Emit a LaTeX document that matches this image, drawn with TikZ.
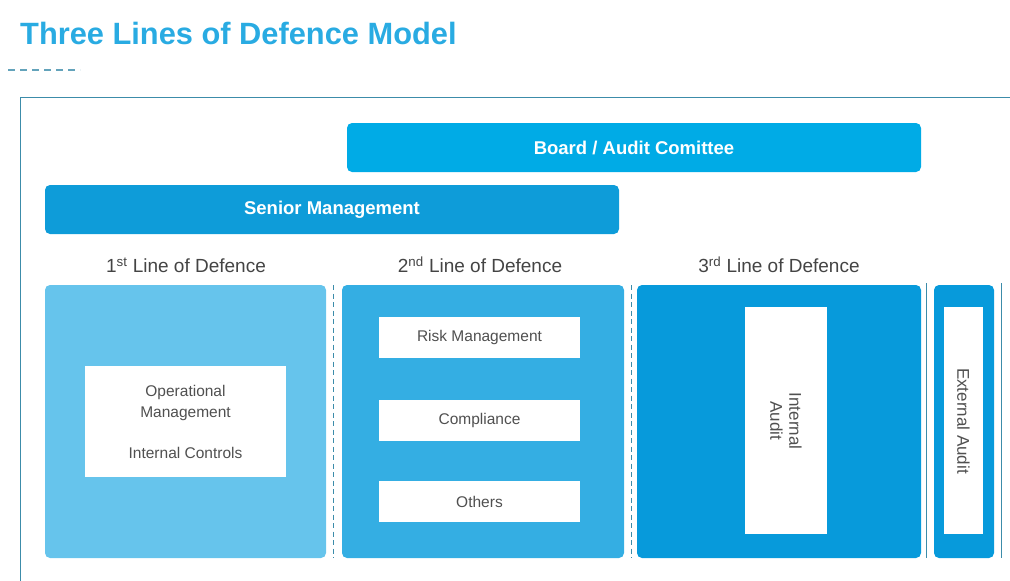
\documentclass[tikz,border=0pt]{standalone}
\usepackage{fontspec}
\setmainfont{Liberation Sans}
\usetikzlibrary{positioning}

\definecolor{titleblue}{RGB}{41,171,226}
\definecolor{boardblue}{RGB}{0,171,230}
\definecolor{seniorblue}{RGB}{14,156,217}
\definecolor{firstblue}{RGB}{102,196,236}
\definecolor{secondblue}{RGB}{52,174,227}
\definecolor{thirdblue}{RGB}{7,154,219}
\definecolor{framegrey}{RGB}{60,140,170}
\definecolor{textgrey}{RGB}{80,80,80}

\begin{document}
\begin{tikzpicture}[
          x=1pt, y=-1pt,
          bar/.style={rounded corners=5pt, text=white,
            font=\fontsize{18.5}{20}\selectfont\bfseries},
          column/.style={rounded corners=5pt},
          heading/.style={text=textgrey!85!black, font=\fontsize{19}{22}\selectfont},
          entry/.style={fill=white, text=textgrey, align=center,
            font=\fontsize{15.5}{21}\selectfont},
          sep/.style={draw=framegrey, line width=1pt, dash pattern=on 5pt off 3.5pt},
          rule/.style={draw=framegrey, line width=0.8pt}
        ]
        \useasboundingbox (0,0) rectangle (1010,581);

        % title
        \node[anchor=base west, inner sep=0pt, text=titleblue,
          font=\fontsize{30.8}{34}\selectfont\bfseries] (title) at (20,44)
          {Three Lines of Defence Model};
        \draw[draw=framegrey!80, line width=1.2pt, dash pattern=on 7pt off 5pt] (8,70) -- (80,70);

        % frame
        \draw[rule] (20,581) -- (20,97) -- (1010,97);

        % board and senior management
        \fill[boardblue, rounded corners=5pt] (347,123) rectangle (921,172);
        \node[bar] (board) at (634,148) {Board / Audit Comittee};
        \fill[seniorblue, rounded corners=5pt] (45,185) rectangle (619,234);
        \node[bar] (senior) at (332,210) {Senior Management};

        % the three lines
        \node[heading] (first) at (186,265) {1\textsuperscript{st} Line of Defence};
        \node[heading] (second) at (480,265) {2\textsuperscript{nd} Line of Defence};
        \node[heading] (third) at (779,265) {3\textsuperscript{rd} Line of Defence};

        \fill[firstblue, column] (45,285) rectangle (326,558);
        \fill[secondblue, column] (342,285) rectangle (624,558);
        \fill[thirdblue, column] (637,285) rectangle (921,558);
        \fill[thirdblue, column] (934,285) rectangle (994,558);

        \draw[sep] (333,285) -- (333,558);
        \draw[sep] (631,285) -- (631,558);
        \draw[rule] (926,283) -- (926,558);
        \draw[rule] (1001,283) -- (1001,558);

        % first line
        \node[entry, minimum width=201pt, minimum height=111pt] (opman) at (185.5,421.5)
          {Operational\\Management\\[20pt]Internal Controls};

        % second line
        \node[entry, minimum width=201pt, minimum height=41pt] (risk) at (479.5,337.5) {Risk Management};
        \node[entry, minimum width=201pt, minimum height=41pt] (compliance) at (479.5,420.5) {Compliance};
        \node[entry, minimum width=201pt, minimum height=41pt] (others) at (479.5,501.5) {Others};

        % third line and external audit
        \fill[white] (745,307) rectangle (827,534);
        \node[text=textgrey, align=center, rotate=-90, font=\fontsize{17}{19}\selectfont]
          (internal) at (786,421) {Internal\\Audit};
        \fill[white] (944,307) rectangle (983,534);
        \node[text=textgrey, rotate=-90, font=\fontsize{17}{19}\selectfont]
          (external) at (963.5,421) {External Audit};

        \end{tikzpicture}
\end{document}
